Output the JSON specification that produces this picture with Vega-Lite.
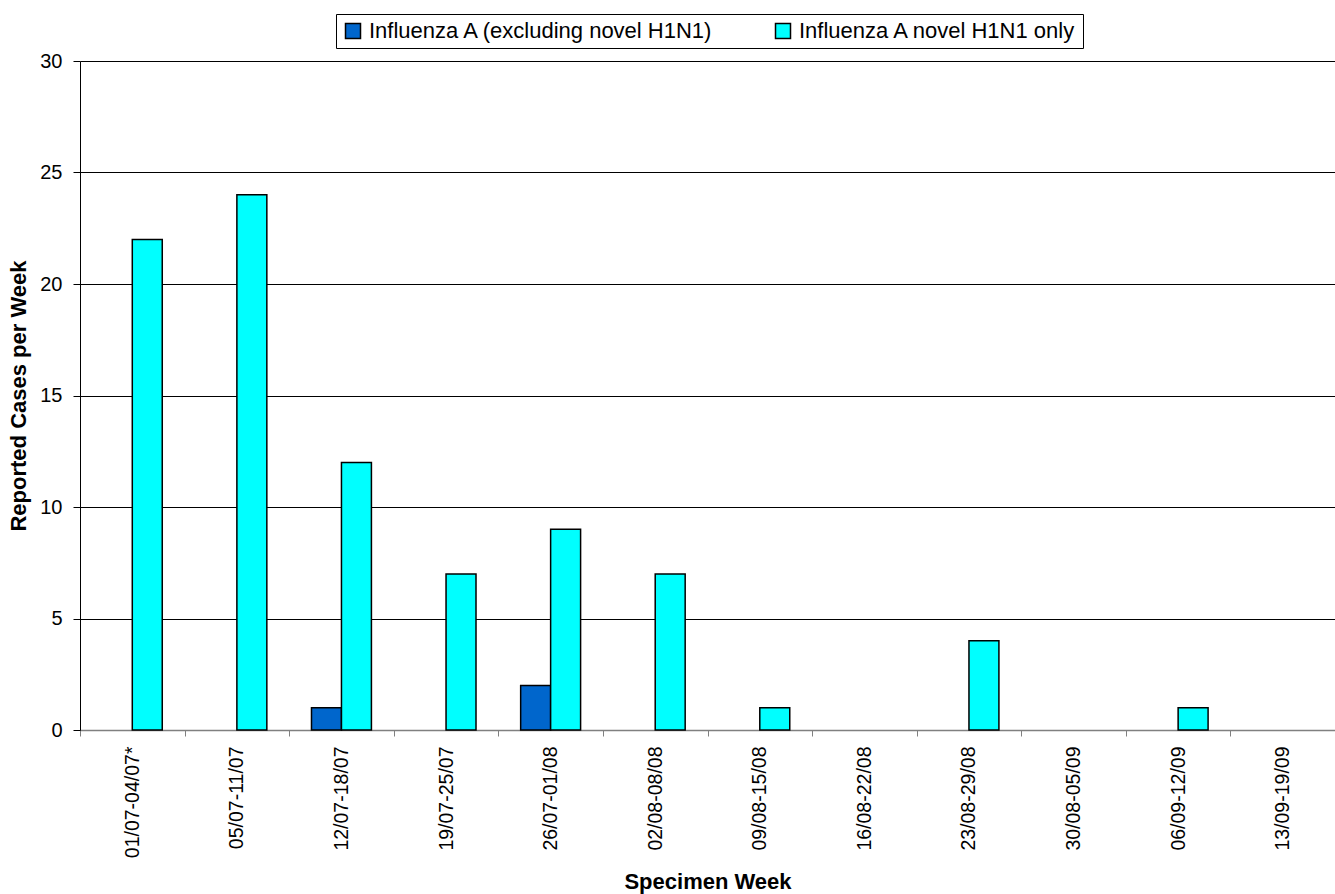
{
  "$schema": "https://vega.github.io/schema/vega-lite/v6.json",
  "autosize": {"type": "none"},
  "padding": {"left": 80, "top": 61, "right": 0, "bottom": 164},
  "width": 1255,
  "height": 669,
  "background": "white",
  "config": {
    "font": "Liberation Sans",
    "view": {"stroke": null}
  },
  "data": {
    "values": [
      {"week": "01/07-04/07*", "series": "Influenza A (excluding novel H1N1)", "value": 0},
      {"week": "01/07-04/07*", "series": "Influenza A novel H1N1 only", "value": 22},
      {"week": "05/07-11/07", "series": "Influenza A (excluding novel H1N1)", "value": 0},
      {"week": "05/07-11/07", "series": "Influenza A novel H1N1 only", "value": 24},
      {"week": "12/07-18/07", "series": "Influenza A (excluding novel H1N1)", "value": 1},
      {"week": "12/07-18/07", "series": "Influenza A novel H1N1 only", "value": 12},
      {"week": "19/07-25/07", "series": "Influenza A (excluding novel H1N1)", "value": 0},
      {"week": "19/07-25/07", "series": "Influenza A novel H1N1 only", "value": 7},
      {"week": "26/07-01/08", "series": "Influenza A (excluding novel H1N1)", "value": 2},
      {"week": "26/07-01/08", "series": "Influenza A novel H1N1 only", "value": 9},
      {"week": "02/08-08/08", "series": "Influenza A (excluding novel H1N1)", "value": 0},
      {"week": "02/08-08/08", "series": "Influenza A novel H1N1 only", "value": 7},
      {"week": "09/08-15/08", "series": "Influenza A (excluding novel H1N1)", "value": 0},
      {"week": "09/08-15/08", "series": "Influenza A novel H1N1 only", "value": 1},
      {"week": "16/08-22/08", "series": "Influenza A (excluding novel H1N1)", "value": 0},
      {"week": "16/08-22/08", "series": "Influenza A novel H1N1 only", "value": 0},
      {"week": "23/08-29/08", "series": "Influenza A (excluding novel H1N1)", "value": 0},
      {"week": "23/08-29/08", "series": "Influenza A novel H1N1 only", "value": 4},
      {"week": "30/08-05/09", "series": "Influenza A (excluding novel H1N1)", "value": 0},
      {"week": "30/08-05/09", "series": "Influenza A novel H1N1 only", "value": 0},
      {"week": "06/09-12/09", "series": "Influenza A (excluding novel H1N1)", "value": 0},
      {"week": "06/09-12/09", "series": "Influenza A novel H1N1 only", "value": 1},
      {"week": "13/09-19/09", "series": "Influenza A (excluding novel H1N1)", "value": 0},
      {"week": "13/09-19/09", "series": "Influenza A novel H1N1 only", "value": 0}
    ]
  },
  "mark": {"type": "bar", "stroke": "black", "strokeWidth": 1.5},
  "encoding": {
    "x": {
      "field": "week",
      "type": "nominal",
      "sort": null,
      "scale": {"paddingInner": 0, "paddingOuter": 0},
      "axis": {
        "title": "Specimen Week",
        "titleFontSize": 22,
        "titleFontWeight": "bold",
        "titleColor": "black",
        "titlePadding": 14,
        "labelAngle": -90,
        "labelFontSize": 19.5,
        "labelColor": "black",
        "labelPadding": 10,
        "tickBand": "extent",
        "tickSize": 6,
        "tickColor": "#808080",
        "domainColor": "#808080",
        "domainWidth": 1.5
      }
    },
    "xOffset": {
      "field": "series",
      "type": "nominal",
      "scale": {"paddingInner": 0, "paddingOuter": 0.745}
    },
    "y": {
      "field": "value",
      "type": "quantitative",
      "scale": {"domain": [0, 30]},
      "axis": {
        "title": "Reported Cases per Week",
        "titleFontSize": 22,
        "titleFontWeight": "bold",
        "titleColor": "black",
        "titlePadding": 9,
        "values": [0, 5, 10, 15, 20, 25, 30],
        "labelFontSize": 20,
        "labelColor": "black",
        "labelPadding": 11,
        "tickSize": 7,
        "tickColor": "black",
        "domainColor": "black",
        "grid": true,
        "gridColor": "black",
        "gridWidth": 1
      }
    },
    "color": {
      "field": "series",
      "type": "nominal",
      "scale": {
        "domain": ["Influenza A (excluding novel H1N1)", "Influenza A novel H1N1 only"],
        "range": ["#0066CC", "#00FFFF"]
      },
      "legend": {
        "title": null,
        "orient": "none",
        "legendX": 256,
        "legendY": -47,
        "direction": "horizontal",
        "columnPadding": 58,
        "padding": 6,
        "strokeColor": "black",
        "fillColor": "white",
        "symbolType": "square",
        "symbolSize": 225,
        "symbolStrokeColor": "black",
        "symbolStrokeWidth": 1.5,
        "symbolOpacity": 1,
        "labelFontSize": 22,
        "labelColor": "black",
        "labelOffset": 5,
        "labelLimit": 500
      }
    },
    "strokeOpacity": {
      "condition": {"test": "datum.value > 0", "value": 1},
      "value": 0
    }
  }
}
